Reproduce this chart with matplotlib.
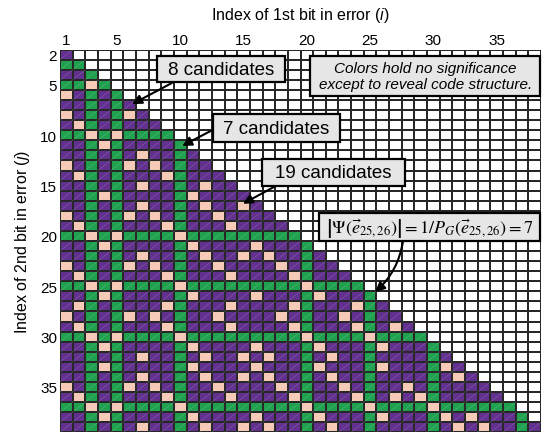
import numpy as np
import matplotlib
matplotlib.use('Agg')
import matplotlib.pyplot as plt
from matplotlib.colors import ListedColormap
from matplotlib.collections import LineCollection
from matplotlib.patches import Rectangle

plt.rcParams['font.family'] = 'Liberation Sans'
plt.rcParams['mathtext.fontset'] = 'custom'
plt.rcParams['mathtext.rm'] = 'Liberation Sans'
plt.rcParams['mathtext.it'] = 'Liberation Sans:italic'

# bit indices: i = 1st bit (columns), j = 2nd bit (rows)
first_bit = np.arange(1, 39)
second_bit = np.arange(2, 40)

# cell colours, one string per row j = 2..39,
# one letter per column i = 1..j-1
# p = purple (8 candidates), g = green (7 candidates), k = pink (19 candidates)
cell_rows = [
    "p",
    "gg",
    "ppg",
    "ggkg",
    "kpgpg",
    "ppgpgp",
    "kpgpgkp",
    "pkgpgppp",
    "ggkgkgggg",
    "ppgkgppppg",
    "ppgpgpkppg" "p",
    "kpgpgkpkpg" "pp",
    "pkgpgpppkg" "ppp",
    "ppgpgpkppg" "pkpp",
    "ppgkgppppg" "kpppp",
    "ppgpgpkppg" "pkppkp",
    "kpgpgkpkpg" "ppkpppp",
    "pkgpgpppkg" "pppkpppp",
    "ggkgkggggk" "ggggggggg",
    "ppgkgppppg" "kppppkpppg",
    "ppgpgpkppg" "pkppkpkppg" "p",
    "kpgpgkpkpg" "ppkppppkpg" "pp",
    "pkgpgpppkg" "pppkppppkg" "ppp",
    "ggkgkggggk" "gggggggggk" "gggg",
    "ppgkgppppg" "kppppkpppg" "kpppg",
    "pkgpgpppkg" "pppkppppkg" "pppkgp",
    "kpgpgkpkpg" "ppkppppkpg" "ppkpgpp",
    "pkgpgpppkg" "pppkppppkg" "pppkgpkp",
    "ggkgkggggk" "gggggggggk" "ggggkgggg",
    "ppgkgppppg" "kppppkpppg" "kpppgkpppg",
    "ppgpgpkppg" "pkppkpkppg" "pkppgppppg" "p",
    "ppgkgppppg" "kppppkpppg" "kpppgkpppg" "kp",
    "ppgpgpkppg" "pkppkpkppg" "pkppgppppg" "pkp",
    "kpgpgkpkpg" "ppkppppkpg" "ppkpgppkpg" "pppp",
    "pkgpgpppkg" "pppkppppkg" "pppkgpkpkg" "ppppp",
    "ggkgkggggk" "gggggggggk" "ggggkggggk" "gggggg",
    "ppgkgppppg" "kppppkpppg" "kpppgkpppg" "kpkpppg",
    "ppgpgpkppg" "pkppkpkppg" "pkppgppppg" "pkpkppgp",
]

x_ticks = [1, 5, 10, 15, 20, 25, 30, 35]
y_ticks = [2, 5, 10, 15, 20, 25, 30, 35]

# (label, i, j) of the cells that the callouts point at
callouts = [
    ("8 candidates", 6, 7),
    ("7 candidates", 10, 11),
    ("19 candidates", 15, 17),
    (r"$\left|\Psi(\vec{e}_{25,26})\right| = 1/P_G(\vec{e}_{25,26}) = 7$", 25, 26),
]
note = "Colors hold no significance\nexcept to reveal code structure."

purple = "#62308f"
green = "#20a14f"
pink = "#f6c9b6"
edge = "#272727"
code = {"p": 1, "g": 2, "k": 3}

grid = np.zeros((len(second_bit), len(first_bit)))
segs = []
for r, (j, row) in enumerate(zip(second_bit, cell_rows)):
    assert len(row) == j - 1, (j, len(row))
    for c, ch in enumerate(row):
        grid[r, c] = code[ch]
        i = first_bit[c]
        segs.append([(i - 0.5, j + 0.5), (i + 0.5, j - 0.5)])

fig = plt.figure(figsize=(5.49, 4.35), dpi=100)
ax = fig.add_axes([60 / 549, 1.7 / 435, 481 / 549, 382.6 / 435])

cmap = ListedColormap(["white", purple, green, pink])
ax.pcolormesh(np.arange(0.5, 39), np.arange(1.5, 40), grid, cmap=cmap,
              vmin=-0.5, vmax=3.5, edgecolors=edge, linewidth=1.1)
ax.add_collection(LineCollection(segs, colors=[(1, 1, 1, 0.18)], linewidths=0.5))

ax.set_xlim(0.5, 38.5)
ax.set_ylim(39.5, 1.5)
ax.xaxis.tick_top()
ax.xaxis.set_label_position('top')
ax.set_xticks(x_ticks)
ax.set_yticks(y_ticks)
ax.tick_params(length=0, labelsize=11, pad=2)
for s in ax.spines.values():
    s.set_visible(False)
ax.set_xlabel(r"Index of 1st bit in error $\mathit{(i)}$", fontsize=11.5, labelpad=10)
ax.set_ylabel(r"Index of 2nd bit in error $\mathit{(j)}$", fontsize=11.5, labelpad=6)

box_kw = dict(facecolor="#e6e6e6", edgecolor="black", linewidth=1.6, clip_on=False, zorder=4)
# callout boxes (x0, x1, y0, y1 in cell units) and arrow starts
boxes = [(8.16, 18.27, 2.13, 4.71), (12.59, 22.62, 7.89, 10.67),
         (16.46, 27.75, 12.35, 15.04), (20.96, 38.45, 17.72, 20.5)]
starts = [(9.35, 4.8), (12.59, 9.45), (17.45, 15.1), (27.6, 20.5)]
tip_off = [(0.2, -0.1), (0.15, 0.05), (-0.05, -0.2), (0.4, -0.45)]
for (label, i, j), (x0, x1, y0, y1), st, off in zip(callouts, boxes, starts, tip_off):
    ax.add_patch(Rectangle((x0, y0), x1 - x0, y1 - y0, **box_kw))
    if label.startswith("$"):
        ax.text((x0 + x1) / 2, (y0 + y1) / 2 + 0.05, label, fontsize=13,
                math_fontfamily='stix', ha='center', va='center', zorder=5)
        cs = "arc3,rad=-0.18"
    else:
        ax.text((x0 + x1) / 2, (y0 + y1) / 2 + 0.05, label, fontsize=13.5,
                ha='center', va='center', zorder=5)
        cs = "arc3,rad=0"
    ax.annotate("", xy=(i + off[0], j + off[1]), xytext=st,
                arrowprops=dict(arrowstyle='-|>', color='black', lw=1.5,
                                mutation_scale=14, shrinkA=0, shrinkB=0,
                                connectionstyle=cs), zorder=6)

ax.add_patch(Rectangle((20.25, 2.13), 38.45 - 20.25, 6.1 - 2.13, **box_kw))
ax.text((20.25 + 38.45) / 2, 4.12, note, fontsize=11, style='italic',
        ha='center', va='center', linespacing=1.15, zorder=5)

fig.savefig("out.png", dpi=100)
